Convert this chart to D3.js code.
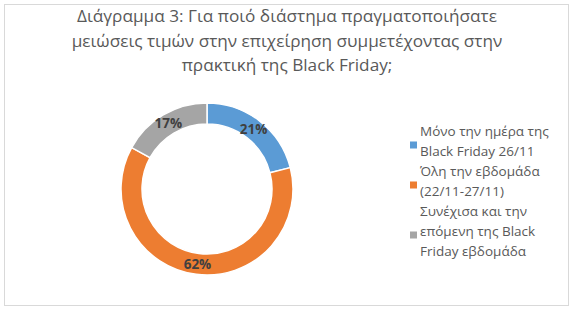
<!DOCTYPE html>
<html><head><meta charset="utf-8">
<script src="https://cdn.jsdelivr.net/npm/d3@7"></script>
<style>body{margin:0;background:#fff;}svg{display:block;}</style>
</head><body>
<svg id="c" width="575" height="311"></svg>
<script>
const titleLines = ["Διάγραμμα 3: Για ποιό διάστημα πραγματοποιήσατε", "μειώσεις τιμών στην επιχείρηση συμμετέχοντας στην", "πρακτική της Black Friday;"];
const categories = ["Μόνο την ημέρα της Black Friday 26/11", "Όλη την εβδομάδα (22/11-27/11)", "Συνέχισα και την επόμενη της Black Friday εβδομάδα"];
const legendLines = [["Μόνο την ημέρα της", "Black Friday 26/11"], ["Όλη την εβδομάδα", "(22/11-27/11)"], ["Συνέχισα και την", "επόμενη της Black", "Friday εβδομάδα"]];
const values = [21, 62, 17];
const colors = ["#5b9bd5", "#ed7d31", "#a5a5a5"];

const svg = d3.select("#c");
const font = "'Open Sans', 'Liberation Sans', sans-serif";
svg.append("rect").attr("x", 4.5).attr("y", 4.5).attr("width", 564).attr("height", 301)
  .attr("fill", "#fff").attr("stroke", "#d9d9d9").attr("stroke-width", 1);

svg.append("g").selectAll("text").data(titleLines).join("text")
  .attr("x", 287).attr("y", (d, i) => 22 + i * 24.5)
  .attr("text-anchor", "middle").attr("font-family", font).attr("font-size", 17.2)
  .attr("fill", "#595959").text(d => d);

const cx = 207, cy = 189, rOut = 86, rIn = 65;
const pie = d3.pie().sort(null).value(d => d);
const arcs = pie(values);
const arc = d3.arc().innerRadius(rIn).outerRadius(rOut);
const g = svg.append("g").attr("transform", `translate(${cx},${cy})`);
g.selectAll("path").data(arcs).join("path")
  .attr("d", arc).attr("fill", (d, i) => colors[i]).attr("stroke", "#fff").attr("stroke-width", 1.5);
const lab = d3.arc().innerRadius(76).outerRadius(76);
g.selectAll("text").data(arcs).join("text")
  .attr("transform", d => `translate(${lab.centroid(d)})`)
  .attr("text-anchor", "middle").attr("dy", "0.35em")
  .attr("font-family", font).attr("font-weight", "bold").attr("font-size", 13.5)
  .attr("fill", "#404040").text(d => d.data + "%");

const leg = svg.append("g");
let y = 131;
legendLines.forEach((lines, i) => {
  const n = lines.length;
  const midY = y + (n - 1) * 20 / 2;
  leg.append("rect").attr("x", 410).attr("y", midY - 4.5 + 5).attr("width", 7).attr("height", 7).attr("fill", colors[i]);
  lines.forEach((t, j) => {
    leg.append("text").attr("x", 420).attr("y", y + j * 20 + 5)
      .attr("font-family", font).attr("font-size", 13.5).attr("fill", "#595959").text(t);
  });
  y += n * 20;
});
</script>
</body></html>
